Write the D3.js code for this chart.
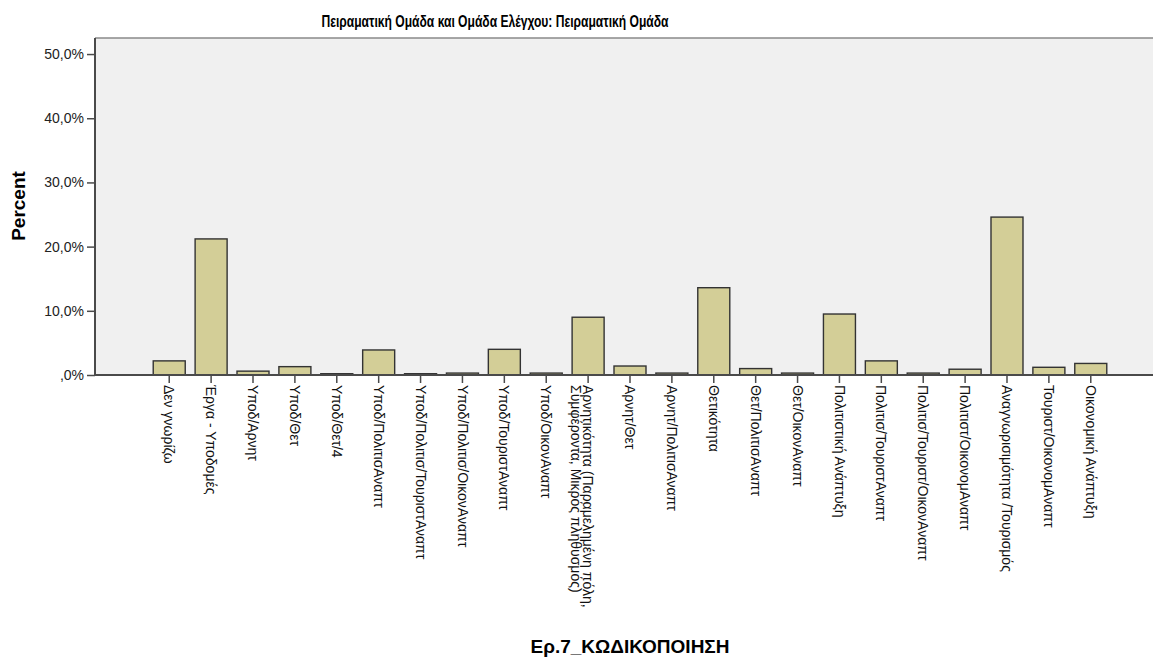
<!DOCTYPE html>
<html>
<head>
<meta charset="utf-8">
<script src="https://cdn.jsdelivr.net/npm/d3@7"></script>
<style>
   html, body { margin: 0; padding: 0; background: #fff; }
   svg { display: block; font-family: "Liberation Sans", Arial, sans-serif; }
</style>
</head>
<body>
<div id="chart"></div>
<script>
"use strict";

const chartTitle = "Πειραματική Ομάδα και Ομάδα Ελέγχου: Πειραματική Ομάδα";
const xTitle = "Ερ.7_ΚΩΔΙΚΟΠΟΙΗΣΗ";
const yTitle = "Percent";

const categories = [
   "Δεν γνωρίζω",
   "Έργα - Υποδομές",
   "Υποδ/Αρνητ",
   "Υποδ/Θετ",
   "Υποδ/Θετ/4",
   "Υποδ/ΠολιτισΑναπτ",
   "Υποδ/Πολιτισ/ΤουριστΑναπτ",
   "Υποδ/Πολιτισ/ΟικονΑναπτ",
   "Υποδ/ΤουριστΑναπτ",
   "Υποδ/ΟικονΑναπτ",
   "Αρνητικότητα (Παραμελημένη πόλη,|Συμφέροντα, Μικρός πληθυσμός)",
   "Αρνητ/Θετ",
   "Αρνητ/ΠολιτισΑναπτ",
   "Θετικότητα",
   "Θετ/ΠολιτισΑναπτ",
   "Θετ/ΟικονΑναπτ",
   "Πολιτιστική Ανάπτυξη",
   "Πολιτισ/ΤουριστΑναπτ",
   "Πολιτισ/Τουριστ/ΟικονΑναπτ",
   "Πολιτιστ/ΟικονομΑναπτ",
   "Αναγνωρισιμότητα /Τουρισμός",
   "Τουριστ/ΟικονομΑναπτ",
   "Οικονομική Ανάπτυξη"
];

const percents = [
   2.2, 21.2, 0.6, 1.3, 0.2, 3.9, 0.2, 0.3, 4.0, 0.3, 9.0, 1.4,
   0.3, 13.6, 1.0, 0.3, 9.5, 2.2, 0.3, 0.9, 24.6, 1.2, 1.8
];

const yTicks = [0, 10, 20, 30, 40, 50];

(function () {
   const width = 1153;
   const height = 657;
   const plot = { left: 95, right: 1165, top: 38, bottom: 375 };
   const barFill = "#D3CE97";
   const axisColour = "#4a4a4a";

   const data = categories.map((c, i) => ({ label: c, value: percents[i] }));

   const svg = d3.select("#chart").append("svg")
      .attr("width", width)
      .attr("height", height);

   const x = d3.scaleBand()
      .domain(categories)
      .range([plot.left, plot.right])
      .paddingInner(0.236)
      .paddingOuter(1.39);

   const y = d3.scaleLinear()
      .domain([0, 52.5])
      .range([plot.bottom, plot.top]);

   // plot background
   svg.append("rect")
      .attr("x", plot.left)
      .attr("y", plot.top)
      .attr("width", plot.right - plot.left)
      .attr("height", plot.bottom - plot.top)
      .attr("fill", "#F0F0F0");

   svg.append("line")
      .attr("x1", plot.left).attr("x2", plot.right)
      .attr("y1", plot.top).attr("y2", plot.top)
      .attr("stroke", "#8a8a8a")
      .attr("stroke-width", 1.5);

   // bars
   svg.append("g").selectAll("rect")
      .data(data)
      .join("rect")
      .attr("x", d => x(d.label))
      .attr("y", d => y(d.value))
      .attr("width", x.bandwidth())
      .attr("height", d => y(0) - y(d.value))
      .attr("fill", barFill)
      .attr("stroke", "#333")
      .attr("stroke-width", 1.4);

   // y axis
   const fmt = d => d3.format(".1f")(d).replace(".", ",").replace(/^0/, "") + "%";
   const yAxis = svg.append("g")
      .attr("transform", `translate(${plot.left},0)`)
      .call(d3.axisLeft(y).tickValues(yTicks).tickFormat(fmt).tickSize(8).tickPadding(3));
   yAxis.select(".domain").remove();
   yAxis.selectAll(".tick line").attr("stroke", axisColour).attr("stroke-width", 1.5);
   yAxis.selectAll(".tick text")
      .attr("fill", "#222")
      .style("font-size", "14px");
   svg.append("line")
      .attr("x1", plot.left).attr("x2", plot.left)
      .attr("y1", plot.top).attr("y2", plot.bottom)
      .attr("stroke", axisColour)
      .attr("stroke-width", 2);

   // x axis
   const xAxis = svg.append("g")
      .attr("transform", `translate(0,${plot.bottom})`)
      .call(d3.axisBottom(x).tickSize(8).tickFormat(""));
   xAxis.select(".domain").remove();
   xAxis.selectAll(".tick line").attr("stroke", axisColour).attr("stroke-width", 1.5);
   svg.append("line")
      .attr("x1", plot.left).attr("x2", plot.right)
      .attr("y1", plot.bottom).attr("y2", plot.bottom)
      .attr("stroke", axisColour)
      .attr("stroke-width", 2);

   // category labels, rotated to read downward
   const labels = svg.append("g").selectAll("g")
      .data(data)
      .join("g")
      .attr("transform", d => `translate(${x(d.label) + x.bandwidth() / 2},${plot.bottom + 10}) rotate(90)`);

   labels.each(function (d) {
      const lines = d.label.split("|");
      const g = d3.select(this);
      lines.forEach((line, i) => {
         g.append("text")
            .attr("x", 0)
            .attr("y", i * 12)
            .attr("dy", "0.35em")
            .attr("fill", "#111")
            .style("font-size", "14px")
            .text(line);
      });
   });

   // titles
   svg.append("text")
      .attr("x", 495)
      .attr("y", 27)
      .attr("text-anchor", "middle")
      .attr("textLength", 347)
      .attr("lengthAdjust", "spacingAndGlyphs")
      .style("font-size", "16px")
      .style("font-weight", "bold")
      .text(chartTitle);

   svg.append("text")
      .attr("transform", `translate(25,206) rotate(-90)`)
      .attr("text-anchor", "middle")
      .style("font-size", "19px")
      .style("font-weight", "bold")
      .text(yTitle);

   svg.append("text")
      .attr("x", (plot.left + plot.right) / 2)
      .attr("y", 653)
      .attr("text-anchor", "middle")
      .style("font-size", "19px")
      .style("font-weight", "bold")
      .text(xTitle);
})();
</script>
</body>
</html>
